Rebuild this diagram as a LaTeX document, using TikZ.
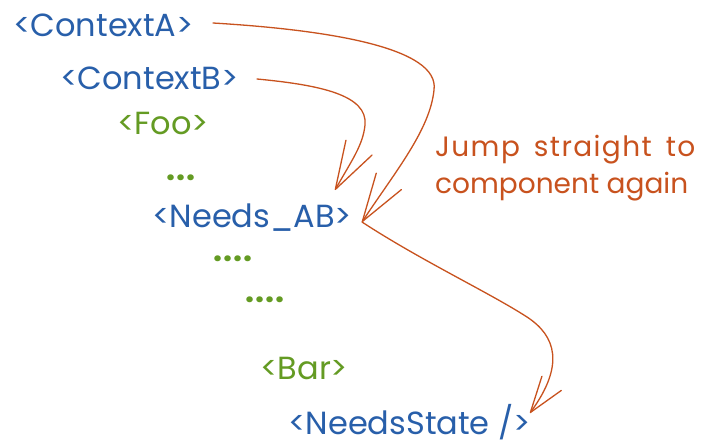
\documentclass[tikz,border=0pt]{standalone}
\usepackage{fontspec}
\setmainfont{Poppins}
\usetikzlibrary{arrows.meta,calc}
\definecolor{cblue}{RGB}{40,95,170}
\definecolor{cgreen}{RGB}{100,155,35}
\definecolor{corange}{RGB}{200,82,30}
\begin{document}
\begin{tikzpicture}[x=1pt,y=-1pt,
  tag/.style={anchor=base west,inner sep=0pt,outer sep=0pt,font=\fontsize{32}{36}\selectfont},
  bluetag/.style={tag,text=cblue},
  greentag/.style={tag,text=cgreen},
  dotrow/.style={greentag,font=\fontsize{32}{36}\selectfont\bfseries\addfontfeatures{LetterSpace=4}},
  note/.style={anchor=base west,inner sep=0pt,align=left,text=corange,font=\fontsize{28}{37}\selectfont},
  sketch/.style={draw=corange,line width=1.3pt,line cap=round,line join=round},
  bigtip/.style={-{Straight Barb[length=48pt,width=30pt,line cap=round,line join=round]}},
  smalltip/.style={-{Straight Barb[length=36pt,width=24pt,line cap=round,line join=round]}}]
\useasboundingbox (0,0) rectangle (718,444);
\fill[white] (0,0) rectangle (718,444);

\node[bluetag] (ctxA) at (13,37) {<ContextA>};
\node[bluetag] (ctxB) at (60,89) {<ContextB>};
\node[greentag] (foo) at (117,135) {<Foo>};
\node[dotrow] (dots1) at (166,180) {...};
\node[bluetag] (nab) at (152,227) {<Needs\_AB>};
\node[dotrow] (dots2) at (213,261) {....};
\node[dotrow] (dots3) at (245,302) {....};
\node[greentag] (bar) at (260,379) {<Bar>};
\node[bluetag] (ns) at (288,434) {<NeedsState />};
\node[note] (jump) at (435,193) {{\addfontfeatures{LetterSpace=5}Jump\hspace{14pt}straight\hspace{14pt}to}\\component again};

\coordinate (aStart) at (213,23);
\coordinate (bStart) at (257,79);
\coordinate (bTip) at (335,190);
\coordinate (nabTip) at (362,222);
\coordinate (nsTip) at (530,413);

\draw[sketch,bigtip] (aStart) .. controls (330,30) and (440,48) .. (434,90)
   .. controls (430,130) and (395,172) .. (nabTip);
\draw[sketch,bigtip] (bStart) .. controls (320,85) and (368,95) .. (365,125)
   .. controls (363,145) and (352,160) .. (bTip);
\draw[sketch,smalltip] (nabTip) .. controls (420,260) and (490,293) .. (527,317)
   .. controls (556,336) and (565,365) .. (nsTip);
\end{tikzpicture}
\end{document}
